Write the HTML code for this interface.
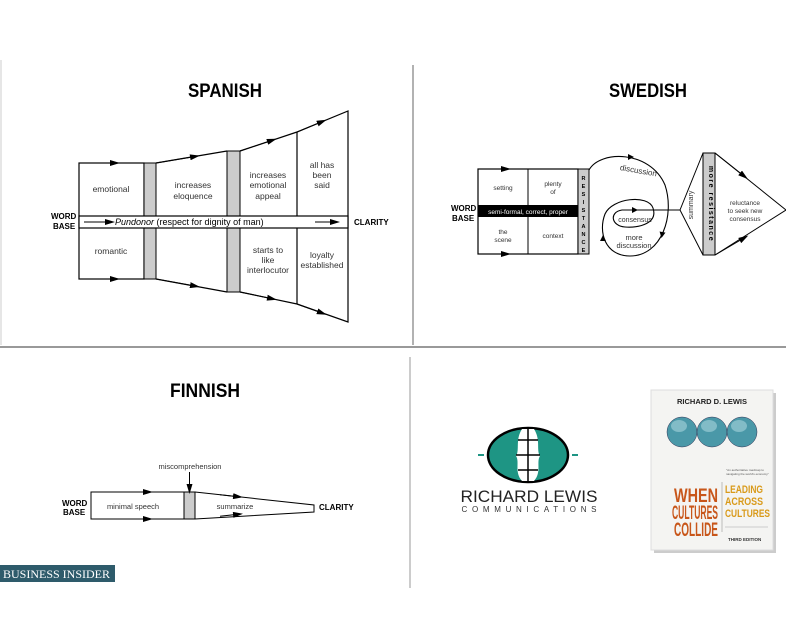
<!DOCTYPE html>
<html><head><meta charset="utf-8"><style>
html,body{margin:0;padding:0;background:#fff;}
svg{display:block;font-family:"Liberation Sans",sans-serif;}
</style></head><body>
<svg width="786" height="617" viewBox="0 0 786 617" xmlns="http://www.w3.org/2000/svg">
<defs>
<marker id="a" viewBox="0 0 10 6" refX="5" refY="3" markerWidth="10" markerHeight="6" orient="auto" markerUnits="userSpaceOnUse"><path d="M0,0 L10,3 L0,6 z" fill="#000"/></marker>
</defs>
<rect width="786" height="617" fill="#fff"/>
<line x1="413" y1="65" x2="413" y2="345" stroke="#999" stroke-width="1.5"/>
<line x1="0" y1="347" x2="786" y2="347" stroke="#999" stroke-width="2"/>
<line x1="410" y1="357" x2="410" y2="588" stroke="#bbb" stroke-width="1.5"/>
<line x1="1" y1="60" x2="1" y2="345" stroke="#ccc" stroke-width="1"/>

<!-- SPANISH -->
<text x="188" y="97" font-size="19" font-weight="bold" textLength="74" lengthAdjust="spacingAndGlyphs">SPANISH</text>
<g fill="none" stroke="#000" stroke-width="1.2">
<rect x="79" y="163" width="65" height="116"/>
<path d="M156,163 L227,151 M156,279 L227,292 M240,151 L297,132 L348,111 L348,322 L297,304 L240,292"/>
<line x1="297" y1="132" x2="297" y2="304"/>
</g>
<rect x="144" y="163" width="12" height="116" fill="#ccc" stroke="#000"/>
<rect x="227" y="151" width="13" height="141" fill="#ccc" stroke="#000"/>
<rect x="79" y="216" width="269" height="12" fill="#fff" stroke="#000" stroke-width="1.2"/>
<g stroke="#000" stroke-width="1" marker-end="url(#a)">
<line x1="85" y1="163" x2="115" y2="163"/><line x1="85" y1="279" x2="115" y2="279"/>
<line x1="156" y1="163" x2="195" y2="156.5"/><line x1="156" y1="279" x2="195" y2="286"/>
<line x1="240" y1="151" x2="272" y2="140.3"/><line x1="240" y1="292" x2="272" y2="298.7"/>
<line x1="297" y1="132" x2="322" y2="121.7"/><line x1="297" y1="304" x2="322" y2="313"/>
<line x1="84" y1="222" x2="110" y2="222"/><line x1="315" y1="222" x2="335" y2="222"/>
</g>
<g font-size="8.5" fill="#333" text-anchor="middle">
<text x="111" y="192">emotional</text>
<text x="193" y="188">increases</text><text x="193" y="199">eloquence</text>
<text x="268" y="178">increases</text><text x="268" y="188">emotional</text><text x="268" y="199">appeal</text>
<text x="322" y="168">all has</text><text x="322" y="178">been</text><text x="322" y="188">said</text>
<text x="111" y="254">romantic</text>
<text x="268" y="253">starts to</text><text x="268" y="263">like</text><text x="268" y="273">interlocutor</text>
<text x="322" y="258">loyalty</text><text x="322" y="268">established</text>
</g>
<text x="115" y="225" font-size="9"><tspan font-style="italic">Pundonor</tspan> (respect for dignity of man)</text>
<g font-size="8" font-weight="bold"><text x="51" y="219">WORD</text><text x="53" y="229">BASE</text><text x="354" y="225">CLARITY</text></g>

<!-- SWEDISH -->
<text x="609" y="97" font-size="19" font-weight="bold" textLength="78" lengthAdjust="spacingAndGlyphs">SWEDISH</text>
<rect x="478" y="169" width="100" height="85" fill="#fff" stroke="#000" stroke-width="1.2"/>
<line x1="528" y1="169" x2="528" y2="254" stroke="#000"/>
<rect x="478" y="205" width="100" height="12" fill="#000"/>
<text x="528" y="214" font-size="6.5" fill="#fff" text-anchor="middle">semi-formal, correct, proper</text>
<rect x="578" y="169" width="11" height="85" fill="#ccc" stroke="#000"/>
<g font-size="5.5" font-weight="bold" text-anchor="middle">
<text x="583.5" y="180">R</text><text x="583.5" y="188">E</text><text x="583.5" y="196">S</text><text x="583.5" y="204">I</text><text x="583.5" y="212">S</text><text x="583.5" y="220">T</text><text x="583.5" y="228">A</text><text x="583.5" y="236">N</text><text x="583.5" y="244">C</text><text x="583.5" y="252">E</text>
</g>
<g stroke="#000" marker-end="url(#a)"><line x1="490" y1="169" x2="506" y2="169"/><line x1="490" y1="254" x2="506" y2="254"/></g>
<g font-size="6.5" fill="#333" text-anchor="middle">
<text x="503" y="190">setting</text><text x="553" y="186">plenty</text><text x="553" y="194">of</text>
<text x="503" y="234">the</text><text x="503" y="242">scene</text><text x="553" y="238">context</text>
</g>
<g font-size="8" font-weight="bold"><text x="451" y="211">WORD</text><text x="452" y="221">BASE</text></g>
<path d="M589,170 C600,150 650,150 665,185 C675,215 662,256 630,256 C605,256 598,232 605,214 C612,198 648,194 653,208 C658,223 640,228 625,227 C611,226 609,212 622,210 L680,210" fill="none" stroke="#000" stroke-width="1.1"/>
<g fill="#000"><path d="M603,235 l-3,6 l6,0z"/><path d="M662,238 l3,-6 l-6,0z" transform="rotate(10 662 235)"/><path d="M628,157 l6,3 l-6,3z" transform="translate(0,-3)"/><path d="M632,207 l6,3 l-6,3z"/></g>
<text x="620" y="170" font-size="8" fill="#333" transform="rotate(10 620 168)">discussion</text>
<text x="635" y="222" font-size="7" fill="#333" text-anchor="middle">consensus</text>
<text x="634" y="240" font-size="7.5" fill="#333" text-anchor="middle">more</text>
<text x="634" y="248" font-size="7.5" fill="#333" text-anchor="middle">discussion</text>
<path d="M680,210 L703,153 L703,255 Z" fill="#fff" stroke="#000"/>
<path d="M715,153 L786,210 L715,255" fill="#fff" stroke="#000"/>
<rect x="703" y="153" width="12" height="102" fill="#ccc" stroke="#000"/>
<text x="693" y="205" font-size="7" fill="#333" text-anchor="middle" transform="rotate(-90 693 205)">summary</text>
<text x="709" y="204" font-size="7" font-weight="bold" text-anchor="middle" letter-spacing="1.5" transform="rotate(90 709 204)">more resistance</text>
<g stroke="#000" marker-end="url(#a)"><line x1="715" y1="153" x2="744" y2="176"/><line x1="715" y1="255" x2="744" y2="238"/></g>
<g font-size="6.5" fill="#333" text-anchor="middle"><text x="745" y="205">reluctance</text><text x="745" y="213">to seek new</text><text x="745" y="221">consensus</text></g>

<!-- FINNISH -->
<text x="170" y="397" font-size="19" font-weight="bold" textLength="70" lengthAdjust="spacingAndGlyphs">FINNISH</text>
<rect x="91" y="492" width="93" height="27" fill="#fff" stroke="#000"/>
<rect x="184" y="492" width="11" height="27" fill="#ccc" stroke="#000"/>
<path d="M195,492 L314,505 L314,512 L195,519" fill="none" stroke="#000"/>
<g stroke="#000" marker-end="url(#a)"><line x1="130" y1="492" x2="148" y2="492"/><line x1="130" y1="519" x2="148" y2="519"/><line x1="220" y1="494.7" x2="238" y2="496.7"/><line x1="220" y1="516.3" x2="238" y2="514.3"/><line x1="189.5" y1="472" x2="189.5" y2="489"/></g>
<text x="190" y="469" font-size="7.5" fill="#333" text-anchor="middle">miscomprehension</text>
<text x="133" y="509" font-size="7.5" fill="#333" text-anchor="middle">minimal speech</text>
<text x="235" y="509" font-size="7.5" fill="#333" text-anchor="middle">summarize</text>
<g font-size="8" font-weight="bold"><text x="62" y="506">WORD</text><text x="63" y="515">BASE</text><text x="319" y="510">CLARITY</text></g>

<rect x="0" y="565" width="115" height="17" fill="#2e5b6b"/>
<text x="3" y="578" font-family="Liberation Serif,serif" font-size="12" fill="#fff">BUSINESS INSIDER</text>

<!-- Logo -->
<ellipse cx="528" cy="455" rx="40" ry="27" fill="#1e9584" stroke="#000" stroke-width="2.5"/>
<line x1="478" y1="455" x2="484" y2="455" stroke="#1e9584" stroke-width="2"/>
<line x1="572" y1="455" x2="578" y2="455" stroke="#1e9584" stroke-width="2"/>
<path d="M522,429 C515,440 520,450 516,456 C520,462 514,472 522,481 L534,481 C542,472 536,462 540,456 C536,450 541,440 534,429Z" fill="#fff"/>
<g stroke="#000" stroke-width="1.5"><line x1="528" y1="428" x2="528" y2="482"/><line x1="518" y1="440" x2="538" y2="440"/><line x1="516" y1="455" x2="540" y2="455"/><line x1="518" y1="470" x2="538" y2="470"/></g>
<text x="529" y="502" font-size="17" text-anchor="middle" fill="#222" textLength="137" lengthAdjust="spacingAndGlyphs">RICHARD LEWIS</text>
<text x="529" y="512" font-size="8" text-anchor="middle" fill="#333" textLength="135" lengthAdjust="spacing">COMMUNICATIONS</text>

<!-- Book -->
<rect x="654" y="393" width="122" height="160" fill="#ccc"/>
<rect x="651" y="390" width="122" height="160" fill="#f4f4f2" stroke="#ddd"/>
<text x="712" y="404" font-size="7.5" font-weight="bold" text-anchor="middle" fill="#222">RICHARD D. LEWIS</text>
<g fill="#4a98a8" stroke="#335" stroke-width="0.5"><circle cx="682" cy="432" r="15"/><circle cx="712" cy="432" r="15"/><circle cx="742" cy="432" r="15"/></g>
<g fill="#a8d4dc" opacity="0.6"><ellipse cx="679" cy="426" rx="8" ry="6"/><ellipse cx="709" cy="426" rx="8" ry="6"/><ellipse cx="739" cy="426" rx="8" ry="6"/></g>
<text x="726" y="471" font-size="3" fill="#555">"An authoritative roadmap to</text>
<text x="726" y="475" font-size="3" fill="#555">navigating the world's economy"</text>
<g font-size="19" font-weight="bold" fill="#c8561a" text-anchor="end"><text x="718" y="502" textLength="44" lengthAdjust="spacingAndGlyphs">WHEN</text><text x="718" y="519" textLength="46" lengthAdjust="spacingAndGlyphs">CULTURES</text><text x="718" y="536" textLength="44" lengthAdjust="spacingAndGlyphs">COLLIDE</text></g>
<line x1="722" y1="482" x2="722" y2="532" stroke="#bbb"/>
<g font-size="11" fill="#d99a1a" font-weight="bold"><text x="725" y="493" textLength="38" lengthAdjust="spacingAndGlyphs">LEADING</text><text x="725" y="505" textLength="38" lengthAdjust="spacingAndGlyphs">ACROSS</text><text x="725" y="517" textLength="45" lengthAdjust="spacingAndGlyphs">CULTURES</text></g>
<line x1="725" y1="527" x2="768" y2="527" stroke="#ccc"/>
<text x="728" y="541" font-size="4.5" font-weight="bold" fill="#333">THIRD EDITION</text>
</svg>
</body></html>
